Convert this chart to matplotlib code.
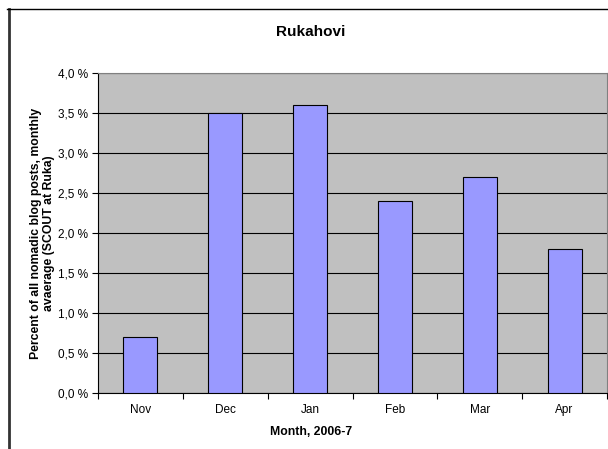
import matplotlib.pyplot as plt
from matplotlib.lines import Line2D
from matplotlib.ticker import FuncFormatter, MultipleLocator

months = ['Nov', 'Dec', 'Jan', 'Feb', 'Mar', 'Apr']
share = [0.7, 3.5, 3.6, 2.4, 2.7, 1.8]

plt.rcParams['font.family'] = ['Liberation Sans', 'DejaVu Sans']

fig = plt.figure(figsize=(6.08, 4.49), dpi=100)
fig.patch.set_facecolor('white')

# chart area frame (cut off at right and bottom)
fig.add_artist(Line2D([8.5 / 608, 8.5 / 608], [0, 1 - 9 / 449], transform=fig.transFigure,
                      color='#333333', lw=2.0))
fig.add_artist(Line2D([7 / 608, 1], [1 - 9 / 449, 1 - 9 / 449], transform=fig.transFigure,
                      color='black', lw=1.0))

ax = fig.add_axes([98 / 608, 1 - 393 / 449, 509 / 608, 320 / 449])
ax.set_facecolor('#C0C0C0')

x = list(range(len(months)))
ax.bar(x, share, width=0.4, color='#9999FF', edgecolor='black', linewidth=0.8, zorder=3)

ax.set_xlim(-0.5, len(months) - 0.5)
ax.set_ylim(0, 4.0)
ax.yaxis.set_major_locator(MultipleLocator(0.5))
ax.yaxis.set_major_formatter(FuncFormatter(lambda v, p: f'{v:.1f} %'.replace('.', ',')))
ax.grid(axis='y', color='black', linewidth=0.8, zorder=1)

ax.set_xticks([i + 0.5 for i in range(-1, len(months))])
ax.set_xticklabels([])
ax.set_xticks(x, minor=True)
ax.set_xticklabels(months, minor=True)
ax.tick_params(axis='x', which='minor', length=0, pad=8, labelsize=8.5)
ax.tick_params(axis='x', which='major', length=4, width=0.8, direction='out')
ax.tick_params(axis='y', length=4, width=0.8, direction='out', labelsize=8.5, pad=3)

for side in ['top', 'right']:
    ax.spines[side].set_color('#808080')
ax.spines['left'].set_color('black')
ax.spines['bottom'].set_color('black')

ax.set_ylabel('Percent of all nomadic blog posts, monthly\navaerage (SCOUT at Ruka)',
              fontsize=8.8, fontweight='bold', labelpad=2)
fig.text(311 / 608, 1 - 432 / 449, 'Month, 2006-7', ha='center', va='center',
         fontsize=8.8, fontweight='bold')
fig.text(311 / 608, 1 - 32 / 449, 'Rukahovi', ha='center', va='center',
         fontsize=11, fontweight='bold')

fig.savefig('out.png', dpi=100)
